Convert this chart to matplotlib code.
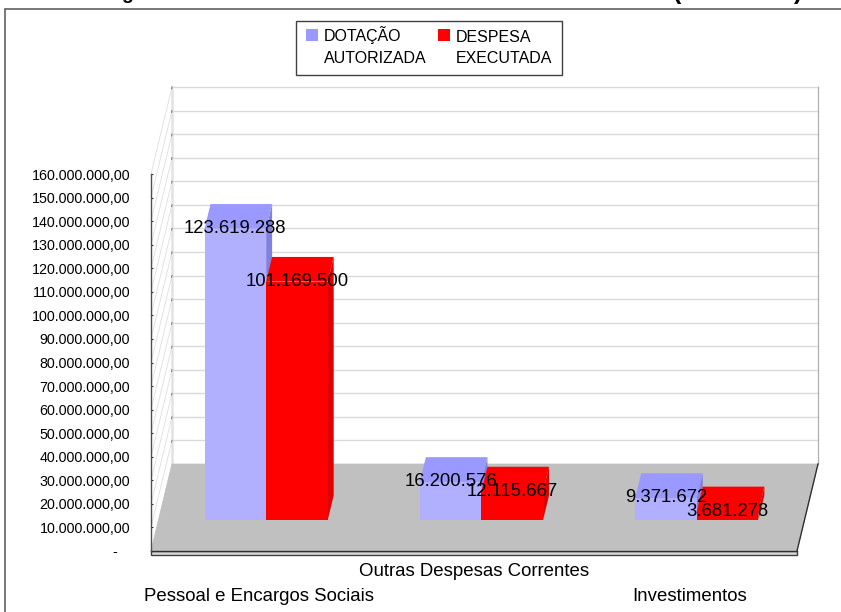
import matplotlib
matplotlib.use('Agg')
import matplotlib.pyplot as plt
from matplotlib.patches import Polygon, Rectangle

plt.rcParams['font.family'] = ['Liberation Sans', 'DejaVu Sans']

categorias = ['Pessoal e Encargos Sociais', 'Outras Despesas Correntes', 'Investimentos']
dotacao = [123619288, 16200576, 9371672]
despesa = [101169500, 12115667, 3681278]
rotulos_dotacao = ['123.619.288', '16.200.576', '9.371.672']
rotulos_despesa = ['101.169.500', '12.115.667', '3.681.278']
ticks = list(range(0, 170000000, 10000000))

W, H = 841, 612
AZUL_FRENTE = '#B0B0FF'
AZUL_TOPO = '#9999FF'
AZUL_LADO = '#8080DD'
VERM = '#FF0000'
VERM_LADO = '#E00000'

fig = plt.figure(figsize=(W / 100, H / 100), dpi=100)

# camada de fundo em pixels: moldura, titulo cortado
fundo = fig.add_axes([0, 0, 1, 1])
fundo.set_xlim(0, W)
fundo.set_ylim(H, 0)
fundo.axis('off')
fundo.add_patch(Rectangle((5.5, 9), W, H, fc='white', ec='#606060', lw=1.2))
fundo.text(802, -1, '(Em Reais)', ha='right', va='baseline', fontsize=18, fontweight='bold')
fundo.text(127, -1, 'g', ha='center', va='baseline', fontsize=14, fontweight='bold')

# plano frontal do grafico 3D
esq, dir_, base, topo = 151, 797, 551, 174
ax = fig.add_axes([esq / W, 1 - base / H, (dir_ - esq) / W, (base - topo) / H])
ax.set_xlim(-0.5, 2.5)
ax.set_ylim(0, 160000000)
ax.patch.set_alpha(0)
for s in ['top', 'right', 'bottom']:
    ax.spines[s].set_visible(False)
ax.spines['left'].set_color('#505050')
ax.spines['left'].set_linewidth(1)

# profundidade: 21 px para a direita, 87 px para cima
DX = 21 / ((dir_ - esq) / 3)
DY = 87 / ((base - topo) / 160000000)


def proj(x, y, d):
    return (x + d * DX, y + d * DY)


def poly(pts, **kw):
    ax.add_patch(Polygon(pts, closed=True, clip_on=False, **kw))


# paredes e grade
poly([proj(-0.5, 0, 1), proj(2.5, 0, 1), proj(2.5, 160000000, 1), proj(-0.5, 160000000, 1)],
     fc='white', ec='none', zorder=1)
for t in ticks[1:]:
    ax.plot(*zip(proj(-0.5, t, 1), proj(2.5, t, 1)), color='#DADADA', lw=1, clip_on=False, zorder=1.5)
    ax.plot(*zip(proj(-0.5, t, 1), proj(-0.5, t, 0.98)), color='#808080', lw=0.8, clip_on=False, zorder=1.7)
for t in ticks:
    ax.plot(*zip(proj(-0.5, t, 0), proj(-0.5, t, 1)), color='#DEDEDE', lw=0.6, clip_on=False, zorder=1.5)
ax.plot(*zip(proj(-0.5, 0, 1), proj(-0.5, 160000000, 1)), color='#E2E2E2', lw=1.8, clip_on=False, zorder=1.6)
ax.plot(*zip(proj(2.5, 0, 1), proj(2.5, 160000000, 1)), color='#B0B0B0', lw=0.9, clip_on=False, zorder=1.6)

# piso
poly([proj(-0.5, 0, 0), proj(2.5, 0, 0), proj(2.5, 0, 1), proj(-0.5, 0, 1)],
     fc='#C0C0C0', ec='#C0C0C0', lw=0.5, zorder=2)
ax.plot(*zip(proj(2.5, 0, 0), proj(2.5, 0, 1)), color='#303030', lw=1, clip_on=False, zorder=2.1)
ax.plot([-0.5, 2.5], [0, 0], color='#303030', lw=1, clip_on=False, zorder=2.1)
fundo.add_patch(Rectangle((esq, base), dir_ - esq, 4, fc='#D8D8D8', ec='#404040', lw=1))

# barras
LARG = 0.286
D0, D1 = 0.356, 0.64


def barra(x0, v, frente, topo_c, lado):
    x1 = x0 + LARG
    z = 3 + x0
    poly([proj(x1, 0, D0), proj(x1, 0, D1), proj(x1, v, D1), proj(x1, v, D0)],
         fc=lado, ec='none', zorder=z)
    poly([proj(x0, v, D0), proj(x1, v, D0), proj(x1, v, D1), proj(x0, v, D1)],
         fc=topo_c, ec='none', zorder=z)
    poly([proj(x0, 0, D0), proj(x1, 0, D0), proj(x1, v, D0), proj(x0, v, D0)],
         fc=frente, ec='none', zorder=z)


for i in range(3):
    barra(i - LARG, dotacao[i], AZUL_FRENTE, AZUL_TOPO, AZUL_LADO)
    barra(i, despesa[i], VERM, VERM, VERM_LADO)

# rotulos de dados
for i in range(3):
    ax.annotate(rotulos_dotacao[i], proj(i - LARG / 2, dotacao[i], D0), xytext=(0, 0), textcoords='offset points',
                ha='center', va='center', fontsize=13.3, color='black', zorder=20, annotation_clip=False)
    ax.annotate(rotulos_despesa[i], proj(i + LARG / 2, despesa[i], D0), xytext=(0, 0), textcoords='offset points',
                ha='center', va='center', fontsize=13.3, color='black', zorder=20, annotation_clip=False)

# eixos
rot_y = ['-   '] + ['{:,.2f}'.format(t).replace(',', '#').replace('.', ',').replace('#', '.') for t in ticks[1:]]
ax.set_yticks(ticks)
ax.set_yticklabels(rot_y, fontsize=10.3)
ax.tick_params(axis='y', direction='in', length=1.5, width=0.8, color='#303030', pad=15)
ax.set_xticks(range(3))
ax.set_xticklabels(categorias, fontsize=13.4)
ax.tick_params(axis='x', length=0, pad=8.5)
ax.get_xticklabels()[0].set_y(-0.066)
ax.get_xticklabels()[2].set_y(-0.066)

# legenda
sobre = fig.add_axes([0, 0, 1, 1])
sobre.set_xlim(0, W)
sobre.set_ylim(H, 0)
sobre.axis('off')
sobre.add_patch(Rectangle((296.5, 21), 266, 54, fc='white', ec='#404040', lw=1))
sobre.add_patch(Rectangle((306, 28.5), 12, 12, fc=AZUL_TOPO, ec='none'))
sobre.add_patch(Rectangle((438, 28.5), 12, 12, fc=VERM, ec='none'))
sobre.text(324, 41.5, 'DOTAÇÃO', fontsize=11.5, va='baseline')
sobre.text(324, 63, 'AUTORIZADA', fontsize=11.5, va='baseline')
sobre.text(456, 41.5, 'DESPESA', fontsize=11.5, va='baseline')
sobre.text(456, 63, 'EXECUTADA', fontsize=11.5, va='baseline')

fig.savefig('out.png', dpi=100)
